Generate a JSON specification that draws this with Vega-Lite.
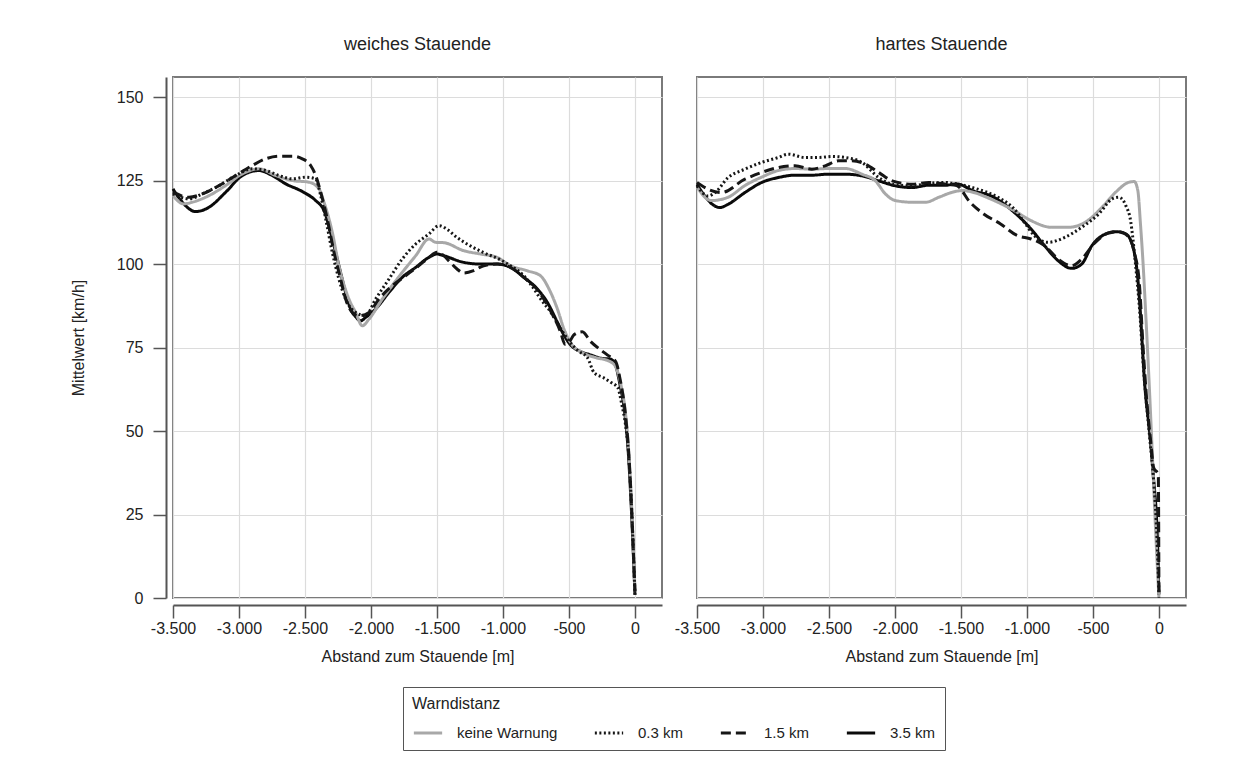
{
  "$schema": "https://vega.github.io/schema/vega-lite/v6.json",
  "padding": {"left": 70, "top": 36, "right": 10, "bottom": 5},
  "config": {
    "font": "Liberation Sans",
    "locale": {"number": {"decimal": ",", "thousands": ".", "grouping": [3], "currency": ["", " €"], "minus": "-"}},
    "view": {"stroke": "#7a7a7a", "strokeWidth": 2},
    "axis": {
      "gridColor": "#dcdcdc", "gridWidth": 1.2,
      "domainColor": "#555", "domainWidth": 2,
      "tickColor": "#555", "tickWidth": 1.5, "tickSize": 13,
      "labelFontSize": 16, "labelColor": "#222", "labelPadding": 10,
      "labelOverlap": false, "labelFlush": false,
      "titleFontSize": 16, "titleFontWeight": "normal", "titleColor": "#222"
    },
    "header": {"labelFontSize": 18, "labelColor": "#222", "labelPadding": 22}
  },
  "data": {"values": [
    {"panel": "weiches Stauende", "warn": "3.5 km", "x": -3500, "y": 122.5},
    {"panel": "weiches Stauende", "warn": "3.5 km", "x": -3429, "y": 118.5},
    {"panel": "weiches Stauende", "warn": "3.5 km", "x": -3328, "y": 115.7},
    {"panel": "weiches Stauende", "warn": "3.5 km", "x": -3227, "y": 117},
    {"panel": "weiches Stauende", "warn": "3.5 km", "x": -3101, "y": 121.5},
    {"panel": "weiches Stauende", "warn": "3.5 km", "x": -2975, "y": 126.5},
    {"panel": "weiches Stauende", "warn": "3.5 km", "x": -2849, "y": 128},
    {"panel": "weiches Stauende", "warn": "3.5 km", "x": -2748, "y": 126.5},
    {"panel": "weiches Stauende", "warn": "3.5 km", "x": -2646, "y": 124},
    {"panel": "weiches Stauende", "warn": "3.5 km", "x": -2520, "y": 121.7},
    {"panel": "weiches Stauende", "warn": "3.5 km", "x": -2419, "y": 119},
    {"panel": "weiches Stauende", "warn": "3.5 km", "x": -2356, "y": 116},
    {"panel": "weiches Stauende", "warn": "3.5 km", "x": -2293, "y": 107.5},
    {"panel": "weiches Stauende", "warn": "3.5 km", "x": -2243, "y": 99.5},
    {"panel": "weiches Stauende", "warn": "3.5 km", "x": -2192, "y": 91.5},
    {"panel": "weiches Stauende", "warn": "3.5 km", "x": -2154, "y": 86.5},
    {"panel": "weiches Stauende", "warn": "3.5 km", "x": -2116, "y": 84.2},
    {"panel": "weiches Stauende", "warn": "3.5 km", "x": -2078, "y": 83},
    {"panel": "weiches Stauende", "warn": "3.5 km", "x": -2041, "y": 84},
    {"panel": "weiches Stauende", "warn": "3.5 km", "x": -1965, "y": 86.5},
    {"panel": "weiches Stauende", "warn": "3.5 km", "x": -1864, "y": 91.5},
    {"panel": "weiches Stauende", "warn": "3.5 km", "x": -1763, "y": 96},
    {"panel": "weiches Stauende", "warn": "3.5 km", "x": -1661, "y": 99},
    {"panel": "weiches Stauende", "warn": "3.5 km", "x": -1561, "y": 102},
    {"panel": "weiches Stauende", "warn": "3.5 km", "x": -1498, "y": 103},
    {"panel": "weiches Stauende", "warn": "3.5 km", "x": -1449, "y": 102.5},
    {"panel": "weiches Stauende", "warn": "3.5 km", "x": -1298, "y": 100.5},
    {"panel": "weiches Stauende", "warn": "3.5 km", "x": -1171, "y": 100},
    {"panel": "weiches Stauende", "warn": "3.5 km", "x": -1045, "y": 100},
    {"panel": "weiches Stauende", "warn": "3.5 km", "x": -943, "y": 99},
    {"panel": "weiches Stauende", "warn": "3.5 km", "x": -842, "y": 96},
    {"panel": "weiches Stauende", "warn": "3.5 km", "x": -741, "y": 92.6},
    {"panel": "weiches Stauende", "warn": "3.5 km", "x": -665, "y": 88.6},
    {"panel": "weiches Stauende", "warn": "3.5 km", "x": -589, "y": 82.7},
    {"panel": "weiches Stauende", "warn": "3.5 km", "x": -539, "y": 78.8},
    {"panel": "weiches Stauende", "warn": "3.5 km", "x": -488, "y": 75.8},
    {"panel": "weiches Stauende", "warn": "3.5 km", "x": -412, "y": 73.8},
    {"panel": "weiches Stauende", "warn": "3.5 km", "x": -336, "y": 72.8},
    {"panel": "weiches Stauende", "warn": "3.5 km", "x": -260, "y": 71.8},
    {"panel": "weiches Stauende", "warn": "3.5 km", "x": -184, "y": 71.5},
    {"panel": "weiches Stauende", "warn": "3.5 km", "x": -150, "y": 70},
    {"panel": "weiches Stauende", "warn": "3.5 km", "x": -114, "y": 64},
    {"panel": "weiches Stauende", "warn": "3.5 km", "x": -76, "y": 55},
    {"panel": "weiches Stauende", "warn": "3.5 km", "x": -51, "y": 44},
    {"panel": "weiches Stauende", "warn": "3.5 km", "x": -30, "y": 29},
    {"panel": "weiches Stauende", "warn": "3.5 km", "x": -13, "y": 14},
    {"panel": "weiches Stauende", "warn": "3.5 km", "x": 0, "y": 1},

    {"panel": "weiches Stauende", "warn": "keine Warnung", "x": -3500, "y": 120.5},
    {"panel": "weiches Stauende", "warn": "keine Warnung", "x": -3420, "y": 118},
    {"panel": "weiches Stauende", "warn": "keine Warnung", "x": -3354, "y": 118.5},
    {"panel": "weiches Stauende", "warn": "keine Warnung", "x": -3227, "y": 120.5},
    {"panel": "weiches Stauende", "warn": "keine Warnung", "x": -3101, "y": 123.5},
    {"panel": "weiches Stauende", "warn": "keine Warnung", "x": -2975, "y": 127},
    {"panel": "weiches Stauende", "warn": "keine Warnung", "x": -2849, "y": 128.5},
    {"panel": "weiches Stauende", "warn": "keine Warnung", "x": -2722, "y": 126.5},
    {"panel": "weiches Stauende", "warn": "keine Warnung", "x": -2596, "y": 125},
    {"panel": "weiches Stauende", "warn": "keine Warnung", "x": -2470, "y": 124.5},
    {"panel": "weiches Stauende", "warn": "keine Warnung", "x": -2394, "y": 122.5},
    {"panel": "weiches Stauende", "warn": "keine Warnung", "x": -2356, "y": 118.5},
    {"panel": "weiches Stauende", "warn": "keine Warnung", "x": -2293, "y": 109.5},
    {"panel": "weiches Stauende", "warn": "keine Warnung", "x": -2243, "y": 99.5},
    {"panel": "weiches Stauende", "warn": "keine Warnung", "x": -2167, "y": 89.5},
    {"panel": "weiches Stauende", "warn": "keine Warnung", "x": -2116, "y": 85.5},
    {"panel": "weiches Stauende", "warn": "keine Warnung", "x": -2066, "y": 81.5},
    {"panel": "weiches Stauende", "warn": "keine Warnung", "x": -2015, "y": 83.5},
    {"panel": "weiches Stauende", "warn": "keine Warnung", "x": -1914, "y": 89.5},
    {"panel": "weiches Stauende", "warn": "keine Warnung", "x": -1763, "y": 97.5},
    {"panel": "weiches Stauende", "warn": "keine Warnung", "x": -1661, "y": 102.5},
    {"panel": "weiches Stauende", "warn": "keine Warnung", "x": -1561, "y": 107.5},
    {"panel": "weiches Stauende", "warn": "keine Warnung", "x": -1510, "y": 106.5},
    {"panel": "weiches Stauende", "warn": "keine Warnung", "x": -1449, "y": 106.4},
    {"panel": "weiches Stauende", "warn": "keine Warnung", "x": -1298, "y": 104},
    {"panel": "weiches Stauende", "warn": "keine Warnung", "x": -1171, "y": 103},
    {"panel": "weiches Stauende", "warn": "keine Warnung", "x": -1045, "y": 102},
    {"panel": "weiches Stauende", "warn": "keine Warnung", "x": -943, "y": 99.5},
    {"panel": "weiches Stauende", "warn": "keine Warnung", "x": -817, "y": 98},
    {"panel": "weiches Stauende", "warn": "keine Warnung", "x": -716, "y": 96.5},
    {"panel": "weiches Stauende", "warn": "keine Warnung", "x": -652, "y": 92.6},
    {"panel": "weiches Stauende", "warn": "keine Warnung", "x": -589, "y": 86.7},
    {"panel": "weiches Stauende", "warn": "keine Warnung", "x": -539, "y": 80.7},
    {"panel": "weiches Stauende", "warn": "keine Warnung", "x": -480, "y": 76},
    {"panel": "weiches Stauende", "warn": "keine Warnung", "x": -400, "y": 73.5},
    {"panel": "weiches Stauende", "warn": "keine Warnung", "x": -300, "y": 72},
    {"panel": "weiches Stauende", "warn": "keine Warnung", "x": -200, "y": 71},
    {"panel": "weiches Stauende", "warn": "keine Warnung", "x": -150, "y": 69.5},
    {"panel": "weiches Stauende", "warn": "keine Warnung", "x": -110, "y": 64.5},
    {"panel": "weiches Stauende", "warn": "keine Warnung", "x": -72, "y": 55.5},
    {"panel": "weiches Stauende", "warn": "keine Warnung", "x": -48, "y": 44.5},
    {"panel": "weiches Stauende", "warn": "keine Warnung", "x": -28, "y": 30},
    {"panel": "weiches Stauende", "warn": "keine Warnung", "x": -12, "y": 15},
    {"panel": "weiches Stauende", "warn": "keine Warnung", "x": 0, "y": 2},

    {"panel": "weiches Stauende", "warn": "0.3 km", "x": -3500, "y": 121},
    {"panel": "weiches Stauende", "warn": "0.3 km", "x": -3379, "y": 119.5},
    {"panel": "weiches Stauende", "warn": "0.3 km", "x": -3278, "y": 121},
    {"panel": "weiches Stauende", "warn": "0.3 km", "x": -3150, "y": 123.5},
    {"panel": "weiches Stauende", "warn": "0.3 km", "x": -3025, "y": 126.5},
    {"panel": "weiches Stauende", "warn": "0.3 km", "x": -2899, "y": 128.5},
    {"panel": "weiches Stauende", "warn": "0.3 km", "x": -2798, "y": 128},
    {"panel": "weiches Stauende", "warn": "0.3 km", "x": -2697, "y": 126.5},
    {"panel": "weiches Stauende", "warn": "0.3 km", "x": -2596, "y": 125.5},
    {"panel": "weiches Stauende", "warn": "0.3 km", "x": -2495, "y": 126},
    {"panel": "weiches Stauende", "warn": "0.3 km", "x": -2419, "y": 125.5},
    {"panel": "weiches Stauende", "warn": "0.3 km", "x": -2381, "y": 120.5},
    {"panel": "weiches Stauende", "warn": "0.3 km", "x": -2343, "y": 113.5},
    {"panel": "weiches Stauende", "warn": "0.3 km", "x": -2293, "y": 103.5},
    {"panel": "weiches Stauende", "warn": "0.3 km", "x": -2243, "y": 95.5},
    {"panel": "weiches Stauende", "warn": "0.3 km", "x": -2192, "y": 89.5},
    {"panel": "weiches Stauende", "warn": "0.3 km", "x": -2116, "y": 85.5},
    {"panel": "weiches Stauende", "warn": "0.3 km", "x": -2041, "y": 84.5},
    {"panel": "weiches Stauende", "warn": "0.3 km", "x": -1965, "y": 89.5},
    {"panel": "weiches Stauende", "warn": "0.3 km", "x": -1864, "y": 95.5},
    {"panel": "weiches Stauende", "warn": "0.3 km", "x": -1763, "y": 101.5},
    {"panel": "weiches Stauende", "warn": "0.3 km", "x": -1661, "y": 106},
    {"panel": "weiches Stauende", "warn": "0.3 km", "x": -1561, "y": 109},
    {"panel": "weiches Stauende", "warn": "0.3 km", "x": -1485, "y": 111.5},
    {"panel": "weiches Stauende", "warn": "0.3 km", "x": -1420, "y": 110.3},
    {"panel": "weiches Stauende", "warn": "0.3 km", "x": -1350, "y": 108},
    {"panel": "weiches Stauende", "warn": "0.3 km", "x": -1250, "y": 105.5},
    {"panel": "weiches Stauende", "warn": "0.3 km", "x": -1150, "y": 103.5},
    {"panel": "weiches Stauende", "warn": "0.3 km", "x": -1007, "y": 101},
    {"panel": "weiches Stauende", "warn": "0.3 km", "x": -943, "y": 99.5},
    {"panel": "weiches Stauende", "warn": "0.3 km", "x": -842, "y": 96.5},
    {"panel": "weiches Stauende", "warn": "0.3 km", "x": -766, "y": 92.6},
    {"panel": "weiches Stauende", "warn": "0.3 km", "x": -716, "y": 89.6},
    {"panel": "weiches Stauende", "warn": "0.3 km", "x": -640, "y": 85.7},
    {"panel": "weiches Stauende", "warn": "0.3 km", "x": -564, "y": 80.7},
    {"panel": "weiches Stauende", "warn": "0.3 km", "x": -500, "y": 77},
    {"panel": "weiches Stauende", "warn": "0.3 km", "x": -430, "y": 74},
    {"panel": "weiches Stauende", "warn": "0.3 km", "x": -360, "y": 72},
    {"panel": "weiches Stauende", "warn": "0.3 km", "x": -310, "y": 67.5},
    {"panel": "weiches Stauende", "warn": "0.3 km", "x": -240, "y": 66},
    {"panel": "weiches Stauende", "warn": "0.3 km", "x": -180, "y": 64.5},
    {"panel": "weiches Stauende", "warn": "0.3 km", "x": -130, "y": 63},
    {"panel": "weiches Stauende", "warn": "0.3 km", "x": -100, "y": 58},
    {"panel": "weiches Stauende", "warn": "0.3 km", "x": -72, "y": 52},
    {"panel": "weiches Stauende", "warn": "0.3 km", "x": -48, "y": 43},
    {"panel": "weiches Stauende", "warn": "0.3 km", "x": -28, "y": 29},
    {"panel": "weiches Stauende", "warn": "0.3 km", "x": -12, "y": 14},
    {"panel": "weiches Stauende", "warn": "0.3 km", "x": 0, "y": 1},

    {"panel": "weiches Stauende", "warn": "1.5 km", "x": -3500, "y": 121.5},
    {"panel": "weiches Stauende", "warn": "1.5 km", "x": -3379, "y": 120},
    {"panel": "weiches Stauende", "warn": "1.5 km", "x": -3278, "y": 121},
    {"panel": "weiches Stauende", "warn": "1.5 km", "x": -3150, "y": 123.5},
    {"panel": "weiches Stauende", "warn": "1.5 km", "x": -3025, "y": 126.5},
    {"panel": "weiches Stauende", "warn": "1.5 km", "x": -2899, "y": 129.5},
    {"panel": "weiches Stauende", "warn": "1.5 km", "x": -2798, "y": 131.5},
    {"panel": "weiches Stauende", "warn": "1.5 km", "x": -2697, "y": 132.3},
    {"panel": "weiches Stauende", "warn": "1.5 km", "x": -2596, "y": 132.3},
    {"panel": "weiches Stauende", "warn": "1.5 km", "x": -2520, "y": 131.5},
    {"panel": "weiches Stauende", "warn": "1.5 km", "x": -2457, "y": 129.5},
    {"panel": "weiches Stauende", "warn": "1.5 km", "x": -2419, "y": 126.5},
    {"panel": "weiches Stauende", "warn": "1.5 km", "x": -2381, "y": 121.5},
    {"panel": "weiches Stauende", "warn": "1.5 km", "x": -2331, "y": 113.5},
    {"panel": "weiches Stauende", "warn": "1.5 km", "x": -2280, "y": 103.5},
    {"panel": "weiches Stauende", "warn": "1.5 km", "x": -2230, "y": 95.5},
    {"panel": "weiches Stauende", "warn": "1.5 km", "x": -2192, "y": 89.5},
    {"panel": "weiches Stauende", "warn": "1.5 km", "x": -2141, "y": 85.5},
    {"panel": "weiches Stauende", "warn": "1.5 km", "x": -2091, "y": 84.5},
    {"panel": "weiches Stauende", "warn": "1.5 km", "x": -2015, "y": 85.5},
    {"panel": "weiches Stauende", "warn": "1.5 km", "x": -1940, "y": 89.5},
    {"panel": "weiches Stauende", "warn": "1.5 km", "x": -1839, "y": 93.5},
    {"panel": "weiches Stauende", "warn": "1.5 km", "x": -1738, "y": 96.5},
    {"panel": "weiches Stauende", "warn": "1.5 km", "x": -1637, "y": 99.5},
    {"panel": "weiches Stauende", "warn": "1.5 km", "x": -1561, "y": 102},
    {"panel": "weiches Stauende", "warn": "1.5 km", "x": -1500, "y": 103.5},
    {"panel": "weiches Stauende", "warn": "1.5 km", "x": -1449, "y": 102.5},
    {"panel": "weiches Stauende", "warn": "1.5 km", "x": -1399, "y": 100.5},
    {"panel": "weiches Stauende", "warn": "1.5 km", "x": -1348, "y": 98.5},
    {"panel": "weiches Stauende", "warn": "1.5 km", "x": -1298, "y": 97.3},
    {"panel": "weiches Stauende", "warn": "1.5 km", "x": -1222, "y": 98},
    {"panel": "weiches Stauende", "warn": "1.5 km", "x": -1146, "y": 99.5},
    {"panel": "weiches Stauende", "warn": "1.5 km", "x": -1045, "y": 100},
    {"panel": "weiches Stauende", "warn": "1.5 km", "x": -943, "y": 99},
    {"panel": "weiches Stauende", "warn": "1.5 km", "x": -842, "y": 96},
    {"panel": "weiches Stauende", "warn": "1.5 km", "x": -741, "y": 92.4},
    {"panel": "weiches Stauende", "warn": "1.5 km", "x": -640, "y": 86},
    {"panel": "weiches Stauende", "warn": "1.5 km", "x": -564, "y": 79.7},
    {"panel": "weiches Stauende", "warn": "1.5 km", "x": -530, "y": 76},
    {"panel": "weiches Stauende", "warn": "1.5 km", "x": -495, "y": 76.8},
    {"panel": "weiches Stauende", "warn": "1.5 km", "x": -462, "y": 78.8},
    {"panel": "weiches Stauende", "warn": "1.5 km", "x": -399, "y": 79.7},
    {"panel": "weiches Stauende", "warn": "1.5 km", "x": -336, "y": 76.8},
    {"panel": "weiches Stauende", "warn": "1.5 km", "x": -260, "y": 74.3},
    {"panel": "weiches Stauende", "warn": "1.5 km", "x": -210, "y": 72.8},
    {"panel": "weiches Stauende", "warn": "1.5 km", "x": -146, "y": 70.8},
    {"panel": "weiches Stauende", "warn": "1.5 km", "x": -110, "y": 65},
    {"panel": "weiches Stauende", "warn": "1.5 km", "x": -75, "y": 56},
    {"panel": "weiches Stauende", "warn": "1.5 km", "x": -50, "y": 45},
    {"panel": "weiches Stauende", "warn": "1.5 km", "x": -30, "y": 31},
    {"panel": "weiches Stauende", "warn": "1.5 km", "x": -13, "y": 15},
    {"panel": "weiches Stauende", "warn": "1.5 km", "x": 0, "y": 2},

    {"panel": "hartes Stauende", "warn": "3.5 km", "x": -3500, "y": 123.9},
    {"panel": "hartes Stauende", "warn": "3.5 km", "x": -3442, "y": 120.4},
    {"panel": "hartes Stauende", "warn": "3.5 km", "x": -3366, "y": 117.4},
    {"panel": "hartes Stauende", "warn": "3.5 km", "x": -3328, "y": 116.9},
    {"panel": "hartes Stauende", "warn": "3.5 km", "x": -3264, "y": 117.9},
    {"panel": "hartes Stauende", "warn": "3.5 km", "x": -3137, "y": 121.4},
    {"panel": "hartes Stauende", "warn": "3.5 km", "x": -3011, "y": 124.4},
    {"panel": "hartes Stauende", "warn": "3.5 km", "x": -2884, "y": 125.9},
    {"panel": "hartes Stauende", "warn": "3.5 km", "x": -2757, "y": 126.6},
    {"panel": "hartes Stauende", "warn": "3.5 km", "x": -2630, "y": 126.6},
    {"panel": "hartes Stauende", "warn": "3.5 km", "x": -2503, "y": 126.9},
    {"panel": "hartes Stauende", "warn": "3.5 km", "x": -2377, "y": 126.9},
    {"panel": "hartes Stauende", "warn": "3.5 km", "x": -2250, "y": 126.4},
    {"panel": "hartes Stauende", "warn": "3.5 km", "x": -2123, "y": 124.9},
    {"panel": "hartes Stauende", "warn": "3.5 km", "x": -1996, "y": 123.4},
    {"panel": "hartes Stauende", "warn": "3.5 km", "x": -1869, "y": 122.9},
    {"panel": "hartes Stauende", "warn": "3.5 km", "x": -1743, "y": 123.6},
    {"panel": "hartes Stauende", "warn": "3.5 km", "x": -1616, "y": 123.6},
    {"panel": "hartes Stauende", "warn": "3.5 km", "x": -1533, "y": 124},
    {"panel": "hartes Stauende", "warn": "3.5 km", "x": -1400, "y": 121.8},
    {"panel": "hartes Stauende", "warn": "3.5 km", "x": -1277, "y": 120.5},
    {"panel": "hartes Stauende", "warn": "3.5 km", "x": -1097, "y": 115.5},
    {"panel": "hartes Stauende", "warn": "3.5 km", "x": -969, "y": 110.5},
    {"panel": "hartes Stauende", "warn": "3.5 km", "x": -867, "y": 105.5},
    {"panel": "hartes Stauende", "warn": "3.5 km", "x": -764, "y": 101},
    {"panel": "hartes Stauende", "warn": "3.5 km", "x": -662, "y": 98.7},
    {"panel": "hartes Stauende", "warn": "3.5 km", "x": -585, "y": 100},
    {"panel": "hartes Stauende", "warn": "3.5 km", "x": -508, "y": 105.5},
    {"panel": "hartes Stauende", "warn": "3.5 km", "x": -405, "y": 109},
    {"panel": "hartes Stauende", "warn": "3.5 km", "x": -328, "y": 109.7},
    {"panel": "hartes Stauende", "warn": "3.5 km", "x": -251, "y": 109},
    {"panel": "hartes Stauende", "warn": "3.5 km", "x": -213, "y": 107},
    {"panel": "hartes Stauende", "warn": "3.5 km", "x": -187, "y": 103.5},
    {"panel": "hartes Stauende", "warn": "3.5 km", "x": -162, "y": 96.5},
    {"panel": "hartes Stauende", "warn": "3.5 km", "x": -145, "y": 88},
    {"panel": "hartes Stauende", "warn": "3.5 km", "x": -107, "y": 63.6},
    {"panel": "hartes Stauende", "warn": "3.5 km", "x": -68, "y": 48.6},
    {"panel": "hartes Stauende", "warn": "3.5 km", "x": -43, "y": 36.7},
    {"panel": "hartes Stauende", "warn": "3.5 km", "x": -13, "y": 18.8},
    {"panel": "hartes Stauende", "warn": "3.5 km", "x": 0, "y": 1},

    {"panel": "hartes Stauende", "warn": "keine Warnung", "x": -3500, "y": 123},
    {"panel": "hartes Stauende", "warn": "keine Warnung", "x": -3391, "y": 119},
    {"panel": "hartes Stauende", "warn": "keine Warnung", "x": -3264, "y": 120},
    {"panel": "hartes Stauende", "warn": "keine Warnung", "x": -3137, "y": 123.5},
    {"panel": "hartes Stauende", "warn": "keine Warnung", "x": -3011, "y": 126},
    {"panel": "hartes Stauende", "warn": "keine Warnung", "x": -2884, "y": 128},
    {"panel": "hartes Stauende", "warn": "keine Warnung", "x": -2757, "y": 128.6},
    {"panel": "hartes Stauende", "warn": "keine Warnung", "x": -2630, "y": 128.4},
    {"panel": "hartes Stauende", "warn": "keine Warnung", "x": -2503, "y": 128.6},
    {"panel": "hartes Stauende", "warn": "keine Warnung", "x": -2377, "y": 128.6},
    {"panel": "hartes Stauende", "warn": "keine Warnung", "x": -2250, "y": 126.9},
    {"panel": "hartes Stauende", "warn": "keine Warnung", "x": -2148, "y": 124.9},
    {"panel": "hartes Stauende", "warn": "keine Warnung", "x": -2073, "y": 121},
    {"panel": "hartes Stauende", "warn": "keine Warnung", "x": -1996, "y": 119},
    {"panel": "hartes Stauende", "warn": "keine Warnung", "x": -1869, "y": 118.5},
    {"panel": "hartes Stauende", "warn": "keine Warnung", "x": -1768, "y": 118.5},
    {"panel": "hartes Stauende", "warn": "keine Warnung", "x": -1667, "y": 120},
    {"panel": "hartes Stauende", "warn": "keine Warnung", "x": -1565, "y": 121.5},
    {"panel": "hartes Stauende", "warn": "keine Warnung", "x": -1489, "y": 122},
    {"panel": "hartes Stauende", "warn": "keine Warnung", "x": -1430, "y": 121.7},
    {"panel": "hartes Stauende", "warn": "keine Warnung", "x": -1277, "y": 119.5},
    {"panel": "hartes Stauende", "warn": "keine Warnung", "x": -1097, "y": 116},
    {"panel": "hartes Stauende", "warn": "keine Warnung", "x": -969, "y": 113},
    {"panel": "hartes Stauende", "warn": "keine Warnung", "x": -815, "y": 111},
    {"panel": "hartes Stauende", "warn": "keine Warnung", "x": -687, "y": 111},
    {"panel": "hartes Stauende", "warn": "keine Warnung", "x": -559, "y": 112.5},
    {"panel": "hartes Stauende", "warn": "keine Warnung", "x": -431, "y": 117},
    {"panel": "hartes Stauende", "warn": "keine Warnung", "x": -328, "y": 121.5},
    {"panel": "hartes Stauende", "warn": "keine Warnung", "x": -226, "y": 124.5},
    {"panel": "hartes Stauende", "warn": "keine Warnung", "x": -187, "y": 124.7},
    {"panel": "hartes Stauende", "warn": "keine Warnung", "x": -160, "y": 122},
    {"panel": "hartes Stauende", "warn": "keine Warnung", "x": -140, "y": 112},
    {"panel": "hartes Stauende", "warn": "keine Warnung", "x": -120, "y": 100},
    {"panel": "hartes Stauende", "warn": "keine Warnung", "x": -100, "y": 85},
    {"panel": "hartes Stauende", "warn": "keine Warnung", "x": -75, "y": 65},
    {"panel": "hartes Stauende", "warn": "keine Warnung", "x": -50, "y": 43},
    {"panel": "hartes Stauende", "warn": "keine Warnung", "x": -25, "y": 20},
    {"panel": "hartes Stauende", "warn": "keine Warnung", "x": 0, "y": 0},

    {"panel": "hartes Stauende", "warn": "0.3 km", "x": -3500, "y": 123.4},
    {"panel": "hartes Stauende", "warn": "0.3 km", "x": -3416, "y": 120.4},
    {"panel": "hartes Stauende", "warn": "0.3 km", "x": -3360, "y": 121.5},
    {"panel": "hartes Stauende", "warn": "0.3 km", "x": -3264, "y": 125.9},
    {"panel": "hartes Stauende", "warn": "0.3 km", "x": -3137, "y": 128.4},
    {"panel": "hartes Stauende", "warn": "0.3 km", "x": -3011, "y": 130.4},
    {"panel": "hartes Stauende", "warn": "0.3 km", "x": -2884, "y": 131.9},
    {"panel": "hartes Stauende", "warn": "0.3 km", "x": -2808, "y": 132.9},
    {"panel": "hartes Stauende", "warn": "0.3 km", "x": -2681, "y": 131.9},
    {"panel": "hartes Stauende", "warn": "0.3 km", "x": -2579, "y": 131.9},
    {"panel": "hartes Stauende", "warn": "0.3 km", "x": -2478, "y": 132.2},
    {"panel": "hartes Stauende", "warn": "0.3 km", "x": -2377, "y": 131.9},
    {"panel": "hartes Stauende", "warn": "0.3 km", "x": -2250, "y": 130.4},
    {"panel": "hartes Stauende", "warn": "0.3 km", "x": -2123, "y": 125.9},
    {"panel": "hartes Stauende", "warn": "0.3 km", "x": -2021, "y": 123.9},
    {"panel": "hartes Stauende", "warn": "0.3 km", "x": -1869, "y": 123.4},
    {"panel": "hartes Stauende", "warn": "0.3 km", "x": -1743, "y": 124.2},
    {"panel": "hartes Stauende", "warn": "0.3 km", "x": -1616, "y": 124.4},
    {"panel": "hartes Stauende", "warn": "0.3 km", "x": -1533, "y": 124},
    {"panel": "hartes Stauende", "warn": "0.3 km", "x": -1380, "y": 122.5},
    {"panel": "hartes Stauende", "warn": "0.3 km", "x": -1220, "y": 120},
    {"panel": "hartes Stauende", "warn": "0.3 km", "x": -1097, "y": 116.5},
    {"panel": "hartes Stauende", "warn": "0.3 km", "x": -1020, "y": 112.5},
    {"panel": "hartes Stauende", "warn": "0.3 km", "x": -944, "y": 108.5},
    {"panel": "hartes Stauende", "warn": "0.3 km", "x": -841, "y": 106.5},
    {"panel": "hartes Stauende", "warn": "0.3 km", "x": -713, "y": 108},
    {"panel": "hartes Stauende", "warn": "0.3 km", "x": -585, "y": 111},
    {"panel": "hartes Stauende", "warn": "0.3 km", "x": -456, "y": 115},
    {"panel": "hartes Stauende", "warn": "0.3 km", "x": -354, "y": 119.5},
    {"panel": "hartes Stauende", "warn": "0.3 km", "x": -303, "y": 120},
    {"panel": "hartes Stauende", "warn": "0.3 km", "x": -251, "y": 117.5},
    {"panel": "hartes Stauende", "warn": "0.3 km", "x": -213, "y": 112.5},
    {"panel": "hartes Stauende", "warn": "0.3 km", "x": -200, "y": 108.5},
    {"panel": "hartes Stauende", "warn": "0.3 km", "x": -174, "y": 98.5},
    {"panel": "hartes Stauende", "warn": "0.3 km", "x": -150, "y": 88},
    {"panel": "hartes Stauende", "warn": "0.3 km", "x": -110, "y": 65},
    {"panel": "hartes Stauende", "warn": "0.3 km", "x": -70, "y": 48},
    {"panel": "hartes Stauende", "warn": "0.3 km", "x": -40, "y": 35},
    {"panel": "hartes Stauende", "warn": "0.3 km", "x": -15, "y": 18},
    {"panel": "hartes Stauende", "warn": "0.3 km", "x": 0, "y": 1},

    {"panel": "hartes Stauende", "warn": "1.5 km", "x": -3500, "y": 124.4},
    {"panel": "hartes Stauende", "warn": "1.5 km", "x": -3416, "y": 122.4},
    {"panel": "hartes Stauende", "warn": "1.5 km", "x": -3315, "y": 121.4},
    {"panel": "hartes Stauende", "warn": "1.5 km", "x": -3137, "y": 125.4},
    {"panel": "hartes Stauende", "warn": "1.5 km", "x": -3011, "y": 127.4},
    {"panel": "hartes Stauende", "warn": "1.5 km", "x": -2884, "y": 128.9},
    {"panel": "hartes Stauende", "warn": "1.5 km", "x": -2757, "y": 129.4},
    {"panel": "hartes Stauende", "warn": "1.5 km", "x": -2630, "y": 128.4},
    {"panel": "hartes Stauende", "warn": "1.5 km", "x": -2529, "y": 129.4},
    {"panel": "hartes Stauende", "warn": "1.5 km", "x": -2427, "y": 130.9},
    {"panel": "hartes Stauende", "warn": "1.5 km", "x": -2326, "y": 130.9},
    {"panel": "hartes Stauende", "warn": "1.5 km", "x": -2224, "y": 129.9},
    {"panel": "hartes Stauende", "warn": "1.5 km", "x": -2123, "y": 127.4},
    {"panel": "hartes Stauende", "warn": "1.5 km", "x": -2021, "y": 124.9},
    {"panel": "hartes Stauende", "warn": "1.5 km", "x": -1869, "y": 123.9},
    {"panel": "hartes Stauende", "warn": "1.5 km", "x": -1743, "y": 124.4},
    {"panel": "hartes Stauende", "warn": "1.5 km", "x": -1616, "y": 123.9},
    {"panel": "hartes Stauende", "warn": "1.5 km", "x": -1533, "y": 123.5},
    {"panel": "hartes Stauende", "warn": "1.5 km", "x": -1431, "y": 118.5},
    {"panel": "hartes Stauende", "warn": "1.5 km", "x": -1328, "y": 115},
    {"panel": "hartes Stauende", "warn": "1.5 km", "x": -1200, "y": 112},
    {"panel": "hartes Stauende", "warn": "1.5 km", "x": -1072, "y": 108.5},
    {"panel": "hartes Stauende", "warn": "1.5 km", "x": -969, "y": 107.5},
    {"panel": "hartes Stauende", "warn": "1.5 km", "x": -867, "y": 105.5},
    {"panel": "hartes Stauende", "warn": "1.5 km", "x": -764, "y": 101.5},
    {"panel": "hartes Stauende", "warn": "1.5 km", "x": -662, "y": 99.5},
    {"panel": "hartes Stauende", "warn": "1.5 km", "x": -585, "y": 101.5},
    {"panel": "hartes Stauende", "warn": "1.5 km", "x": -482, "y": 106.5},
    {"panel": "hartes Stauende", "warn": "1.5 km", "x": -380, "y": 109.3},
    {"panel": "hartes Stauende", "warn": "1.5 km", "x": -303, "y": 109.7},
    {"panel": "hartes Stauende", "warn": "1.5 km", "x": -226, "y": 108},
    {"panel": "hartes Stauende", "warn": "1.5 km", "x": -187, "y": 103.5},
    {"panel": "hartes Stauende", "warn": "1.5 km", "x": -149, "y": 94.5},
    {"panel": "hartes Stauende", "warn": "1.5 km", "x": -120, "y": 75},
    {"panel": "hartes Stauende", "warn": "1.5 km", "x": -90, "y": 58},
    {"panel": "hartes Stauende", "warn": "1.5 km", "x": -60, "y": 46},
    {"panel": "hartes Stauende", "warn": "1.5 km", "x": -40, "y": 39},
    {"panel": "hartes Stauende", "warn": "1.5 km", "x": -5, "y": 37},
    {"panel": "hartes Stauende", "warn": "1.5 km", "x": 0, "y": 0}
  ]},
  "facet": {
    "column": {
      "field": "panel", "type": "nominal",
      "sort": ["weiches Stauende", "hartes Stauende"],
      "header": {"title": null}
    }
  },
  "spacing": 27,
  "spec": {
    "width": 489,
    "height": 521,
    "mark": {"type": "line", "strokeWidth": 3, "interpolate": "monotone"},
    "encoding": {
      "x": {
        "field": "x", "type": "quantitative",
        "scale": {"domain": [-3500, 205], "nice": false, "zero": false},
        "axis": {"title": "Abstand zum Stauende [m]", "values": [-3500, -3000, -2500, -2000, -1500, -1000, -500, 0], "format": ",d", "labelPadding": 2, "titlePadding": 12}
      },
      "y": {
        "field": "y", "type": "quantitative",
        "scale": {"domain": [0, 156], "nice": false},
        "axis": {"title": "Mittelwert [km/h]", "values": [0, 25, 50, 75, 100, 125, 150], "titlePadding": 30}
      },
      "color": {
        "field": "warn", "type": "nominal",
        "scale": {"domain": ["keine Warnung", "0.3 km", "1.5 km", "3.5 km"], "range": ["#a8a8a8", "#161616", "#161616", "#0a0a0a"]},
        "legend": {
          "title": "Warndistanz", "orient": "none", "legendX": 230, "legendY": 610,
          "direction": "horizontal", "titleFontSize": 16, "titleFontWeight": "normal", "titleColor": "#222",
          "labelFontSize": 15, "labelColor": "#222", "symbolType": "stroke", "symbolSize": 800, "symbolStrokeWidth": 3,
          "strokeColor": "#555", "padding": 9, "columnPadding": 30, "titlePadding": 5, "labelOffset": 13
        }
      },
      "strokeDash": {
        "field": "warn", "type": "nominal",
        "scale": {"domain": ["keine Warnung", "0.3 km", "1.5 km", "3.5 km"], "range": [[1, 0], [2, 2.5], [10, 5], [1, 0]]}
      }
    }
  }
}
